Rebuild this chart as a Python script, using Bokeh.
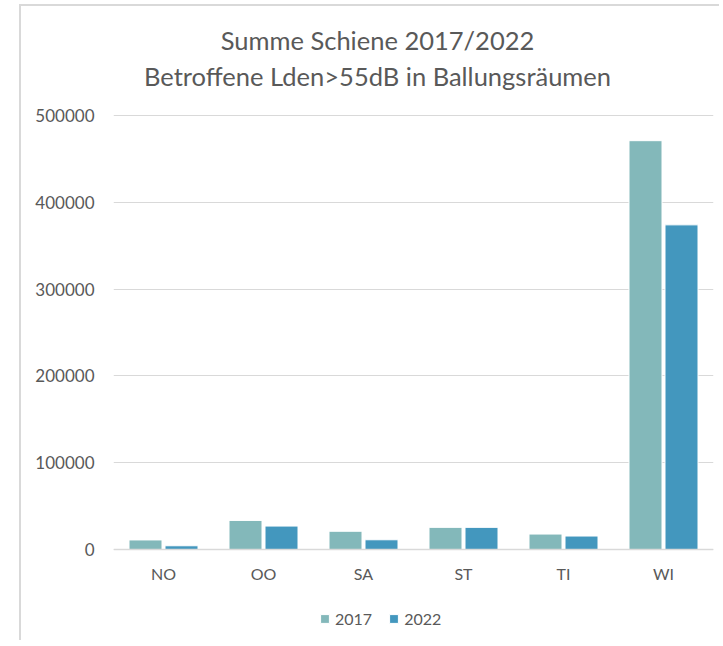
from bokeh.plotting import figure
from bokeh.models import (ColumnDataSource, Legend, LegendItem, Label, FactorRange,
                          Range1d, NumeralTickFormatter, FixedTicker)
from bokeh.transform import dodge
from bokeh.embed import file_html
from bokeh.resources import INLINE

categories = ["NO", "OO", "SA", "ST", "TI", "WI"]
years = ["2017", "2022"]
values_2017 = [11000, 33500, 21000, 25500, 17800, 471000]
values_2022 = [4300, 27000, 11200, 25500, 15500, 374000]
y_ticks = [0, 100000, 200000, 300000, 400000, 500000]
title_lines = ["Summe Schiene 2017/2022", "Betroffene Lden>55dB in Ballungsräumen"]

FONT = "Lato"
TXT = "#595959"
GRID = "#D9D9D9"
C2017 = "#83B8BA"
C2022 = "#4397BE"

# layout (pixels inside the canvas)
W, H = 700, 636
LEFT, RIGHT = 92, 8
TOP_PX, ZERO_PX = 109, 543          # canvas rows of 500000 and 0
px_per_unit = (ZERO_PX - TOP_PX) / 500000
y_end = 500000 + TOP_PX / px_per_unit
y_start = -(H - ZERO_PX) / px_per_unit

src = ColumnDataSource(dict(cat=categories, v2017=values_2017, v2022=values_2022))

p = figure(x_range=FactorRange(factors=categories, range_padding=0),
           y_range=Range1d(y_start, y_end),
           width=W, height=H, title=None,
           output_backend="svg", toolbar_location=None,
           min_border_left=LEFT, min_border_right=RIGHT,
           min_border_top=0, min_border_bottom=0)
p.styles = {"margin-left": "19px", "margin-top": "4px",
            "border-top": "2px solid #D9D9D9", "border-left": "2px solid #D9D9D9"}
p.outline_line_color = None
p.background_fill_color = "white"
p.border_fill_color = "white"

r1 = p.vbar(x=dodge("cat", -0.18, range=p.x_range), top="v2017", width=0.33,
            source=src, fill_color=C2017, line_color="white", line_width=1)
r2 = p.vbar(x=dodge("cat", 0.18, range=p.x_range), top="v2022", width=0.33,
            source=src, fill_color=C2022, line_color="white", line_width=1)

p.xgrid.grid_line_color = None
p.ygrid.ticker = FixedTicker(ticks=y_ticks)
p.ygrid.grid_line_color = GRID
p.ygrid.grid_line_width = 1

p.yaxis.ticker = FixedTicker(ticks=y_ticks)
p.yaxis.formatter = NumeralTickFormatter(format="0")
p.yaxis.axis_line_color = None
p.yaxis.major_tick_line_color = None
p.yaxis.minor_tick_line_color = None
p.yaxis.major_tick_out = 0
p.yaxis.minor_tick_out = 0
p.yaxis.major_label_standoff = 19
p.yaxis.major_label_text_font = FONT
p.yaxis.major_label_text_font_size = "17px"
p.yaxis.major_label_text_color = TXT

p.xaxis.fixed_location = 0
p.xaxis.axis_line_color = GRID
p.xaxis.axis_line_width = 1.5
p.xaxis.major_tick_line_color = None
p.xaxis.minor_tick_line_color = None
p.xaxis.major_tick_out = 0
p.xaxis.minor_tick_out = 0
p.xaxis.major_label_standoff = 14
p.xaxis.major_label_text_font = FONT
p.xaxis.major_label_text_font_size = "16px"
p.xaxis.major_label_text_color = TXT

for txt, yy in zip(title_lines, [H - 33, H - 69]):
    p.add_layout(Label(x=264, y=yy, x_units="screen", y_units="screen", text=txt,
                       text_align="center", text_baseline="alphabetic",
                       text_font=FONT, text_font_size="25.5px", text_color=TXT))

legend = Legend(items=[LegendItem(label=years[0], renderers=[r1]),
                       LegendItem(label=years[1], renderers=[r2])],
                location=(206, 14), orientation="horizontal",
                border_line_color=None, background_fill_alpha=0,
                glyph_width=11, glyph_height=11, label_standoff=5, spacing=16,
                padding=0, margin=0,
                label_text_font=FONT, label_text_font_size="16px", label_text_color=TXT)
p.add_layout(legend, "center")

open("out.html", "w").write(file_html(p, INLINE))
